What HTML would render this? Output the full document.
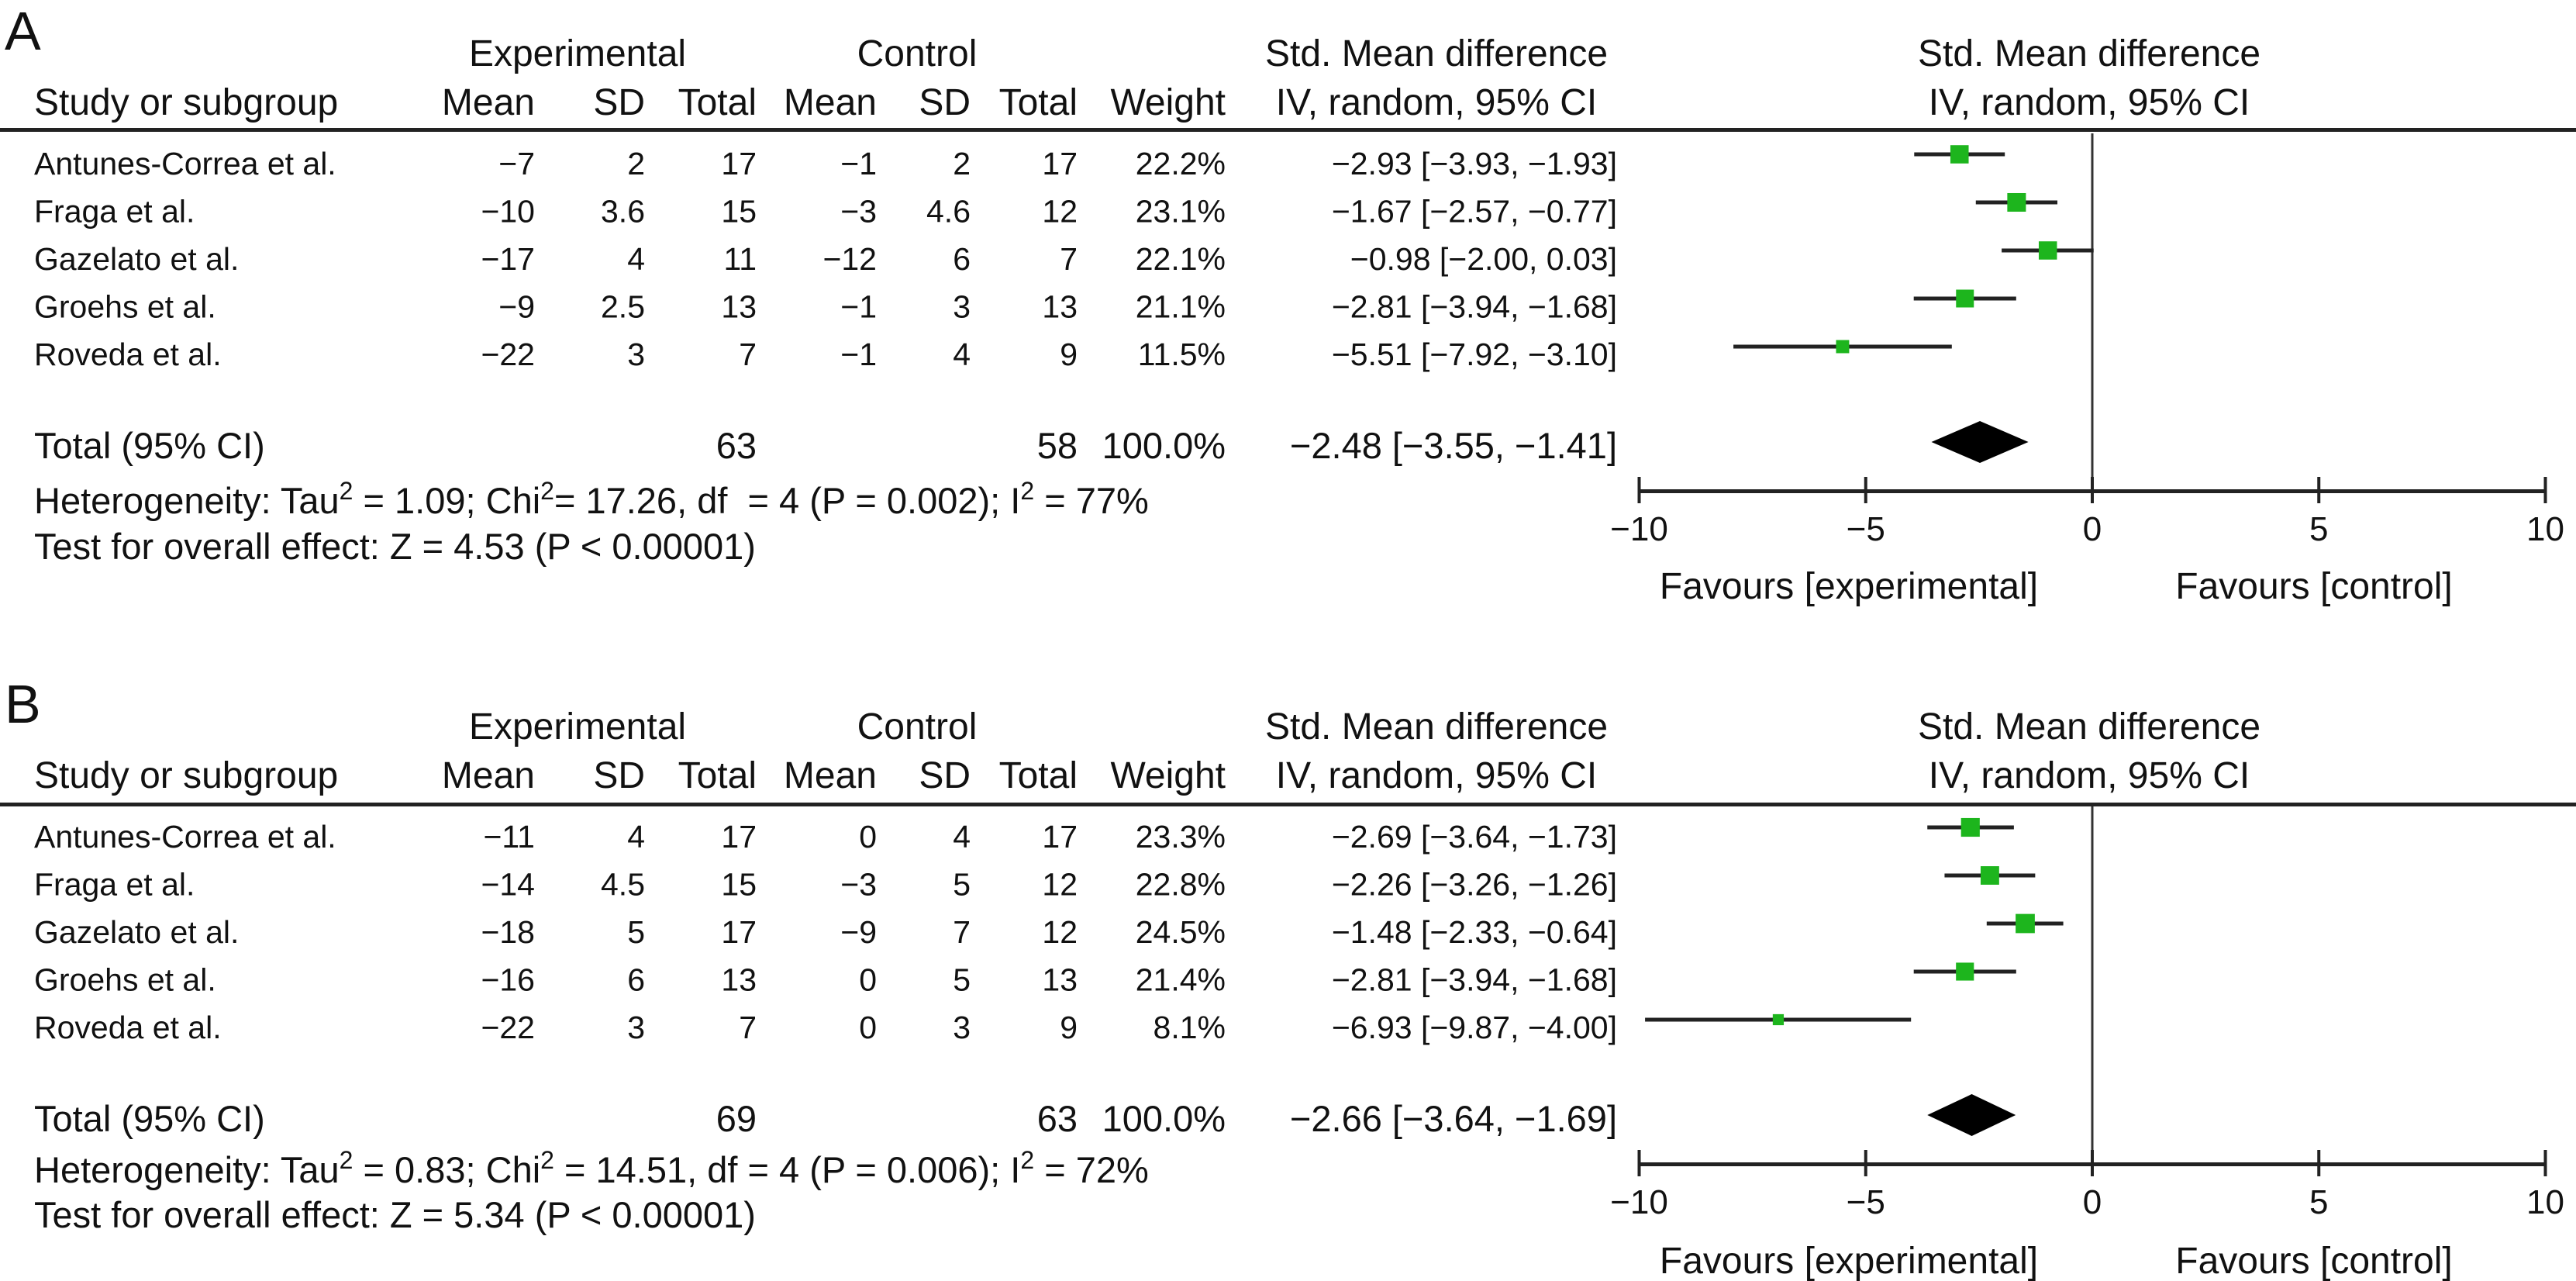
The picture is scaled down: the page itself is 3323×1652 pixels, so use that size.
<!DOCTYPE html>
<html><head><meta charset="utf-8"><style>
html,body{margin:0;padding:0;background:#fff;}
svg{display:block;font-family:"Liberation Sans",Arial,sans-serif;fill:#111;}
</style></head><body>
<svg id="fig" width="3323" height="1652" viewBox="0 0 3323 1652" xmlns="http://www.w3.org/2000/svg">
<rect width="3323" height="1652" fill="#fff"/>
<g id="panelA">
  <text x="6" y="64" font-size="70">A</text>
  <text x="745" y="85" font-size="48" text-anchor="middle">Experimental</text>
  <text x="1183" y="85" font-size="48" text-anchor="middle">Control</text>
  <text x="1853" y="85" font-size="48" text-anchor="middle">Std. Mean difference</text>
  <text x="2695" y="85" font-size="48" text-anchor="middle">Std. Mean difference</text>
  <text x="44" y="148" font-size="48">Study or subgroup</text>
  <text x="690" y="148" font-size="48" text-anchor="end">Mean</text>
  <text x="832" y="148" font-size="48" text-anchor="end">SD</text>
  <text x="976" y="148" font-size="48" text-anchor="end">Total</text>
  <text x="1131" y="148" font-size="48" text-anchor="end">Mean</text>
  <text x="1252" y="148" font-size="48" text-anchor="end">SD</text>
  <text x="1390" y="148" font-size="48" text-anchor="end">Total</text>
  <text x="1581" y="148" font-size="48" text-anchor="end">Weight</text>
  <text x="1853" y="148" font-size="48" text-anchor="middle">IV, random, 95% CI</text>
  <text x="2695" y="148" font-size="48" text-anchor="middle">IV, random, 95% CI</text>
  <rect x="0" y="165" width="3323" height="5" fill="#222"/>
  <text x="44" y="591" font-size="47">Total (95% CI)</text>
  <text x="44" y="662" font-size="47" xml:space="preserve">Heterogeneity: Tau<tspan dy="-18" font-size="32">2</tspan><tspan dy="18"> = 1.09; Chi</tspan><tspan dy="-18" font-size="32">2</tspan><tspan dy="18">= 17.26, df  = 4 (P = 0.002); I</tspan><tspan dy="-18" font-size="32">2</tspan><tspan dy="18"> = 77%</tspan></text>
  <text x="44" y="721" font-size="47">Test for overall effect: Z = 4.53 (P &lt; 0.00001)</text>
  <text x="2385" y="772" font-size="48" text-anchor="middle">Favours [experimental]</text>
  <text x="2985" y="772" font-size="48" text-anchor="middle">Favours [control]</text>
</g>
<g id="panelB" transform="translate(0,868)">
  <text x="6" y="64" font-size="70">B</text>
  <text x="745" y="85" font-size="48" text-anchor="middle">Experimental</text>
  <text x="1183" y="85" font-size="48" text-anchor="middle">Control</text>
  <text x="1853" y="85" font-size="48" text-anchor="middle">Std. Mean difference</text>
  <text x="2695" y="85" font-size="48" text-anchor="middle">Std. Mean difference</text>
  <text x="44" y="148" font-size="48">Study or subgroup</text>
  <text x="690" y="148" font-size="48" text-anchor="end">Mean</text>
  <text x="832" y="148" font-size="48" text-anchor="end">SD</text>
  <text x="976" y="148" font-size="48" text-anchor="end">Total</text>
  <text x="1131" y="148" font-size="48" text-anchor="end">Mean</text>
  <text x="1252" y="148" font-size="48" text-anchor="end">SD</text>
  <text x="1390" y="148" font-size="48" text-anchor="end">Total</text>
  <text x="1581" y="148" font-size="48" text-anchor="end">Weight</text>
  <text x="1853" y="148" font-size="48" text-anchor="middle">IV, random, 95% CI</text>
  <text x="2695" y="148" font-size="48" text-anchor="middle">IV, random, 95% CI</text>
  <rect x="0" y="167" width="3323" height="5" fill="#222"/>
  <text x="44" y="591" font-size="47">Total (95% CI)</text>
  <text x="44" y="657" font-size="47">Heterogeneity: Tau<tspan dy="-18" font-size="32">2</tspan><tspan dy="18"> = 0.83; Chi</tspan><tspan dy="-18" font-size="32">2</tspan><tspan dy="18"> = 14.51, df = 4 (P = 0.006); I</tspan><tspan dy="-18" font-size="32">2</tspan><tspan dy="18"> = 72%</tspan></text>
  <text x="44" y="715" font-size="47">Test for overall effect: Z = 5.34 (P &lt; 0.00001)</text>
  <text x="2385" y="774" font-size="48" text-anchor="middle">Favours [experimental]</text>
  <text x="2985" y="774" font-size="48" text-anchor="middle">Favours [control]</text>
</g>
</svg>
<script>
const studies = ["Antunes-Correa et al.", "Fraga et al.", "Gazelato et al.", "Groehs et al.", "Roveda et al."];
const ticks = [-10, -5, 0, 5, 10];
const tickLabels = ["\u221210", "\u22125", "0", "5", "10"];
// Panel A
const expMeanA = ["\u22127", "\u221210", "\u221217", "\u22129", "\u221222"];
const expSdA = ["2", "3.6", "4", "2.5", "3"];
const expNA = ["17", "15", "11", "13", "7"];
const ctrlMeanA = ["\u22121", "\u22123", "\u221212", "\u22121", "\u22121"];
const ctrlSdA = ["2", "4.6", "6", "3", "4"];
const ctrlNA = ["17", "12", "7", "13", "9"];
const weightA = [22.2, 23.1, 22.1, 21.1, 11.5];
const estA = [-2.93, -1.67, -0.98, -2.81, -5.51];
const loA = [-3.93, -2.57, -2.00, -3.94, -7.92];
const hiA = [-1.93, -0.77, 0.03, -1.68, -3.10];
const totalA = [-2.48, -3.55, -1.41];
const totalNA = ["63", "58"];
// Panel B
const expMeanB = ["\u221211", "\u221214", "\u221218", "\u221216", "\u221222"];
const expSdB = ["4", "4.5", "5", "6", "3"];
const expNB = ["17", "15", "17", "13", "7"];
const ctrlMeanB = ["0", "\u22123", "\u22129", "0", "0"];
const ctrlSdB = ["4", "5", "7", "5", "3"];
const ctrlNB = ["17", "12", "12", "13", "9"];
const weightB = [23.3, 22.8, 24.5, 21.4, 8.1];
const estB = [-2.69, -2.26, -1.48, -2.81, -6.93];
const loB = [-3.64, -3.26, -2.33, -3.94, -9.87];
const hiB = [-1.73, -1.26, -0.64, -1.68, -4.00];
const totalB = [-2.66, -3.64, -1.69];
const totalNB = ["69", "63"];

const NS = "http://www.w3.org/2000/svg";
function xScale(v){ return 2699 + v * 58.45; }
function fmt(v){ const s = Math.abs(v).toFixed(2); return (v < 0 ? "\u2212" : "") + s; }
function mk(tag, attrs, parent){
  const e = document.createElementNS(NS, tag);
  for (const k in attrs) e.setAttribute(k, attrs[k]);
  parent.appendChild(e); return e;
}
function txt(parent, x, y, s, size, anchor){
  const t = mk("text", {x: x, y: y, "font-size": size, "text-anchor": anchor || "start"}, parent);
  t.textContent = s; return t;
}
function drawPanel(g, d){
  const rowY = i => 199 + i * 62;
  const rowBase = i => 225 + i * 61.5;
  const z = mk("rect", {x: xScale(0) - 1.5, y: 172, width: 3, height: 462, fill: "#333"}, g);
  
  
  for (let i = 0; i < studies.length; i++){
    const by = rowBase(i);
    const n = txt(g, 44, by, studies[i], 41);
    
    
    const cells = [[d.em[i],690],[d.es[i],832],[d.en[i],976],[d.cm[i],1131],[d.cs[i],1252],[d.cn[i],1390],[d.w[i].toFixed(1)+"%",1581],[fmt(d.est[i])+" ["+fmt(d.lo[i])+", "+fmt(d.hi[i])+"]",2086]];
    for (const c of cells){
      const t = txt(g, c[1], by, c[0], 41, "end");
      
      
    }
    const cy = rowY(i);
    const l = mk("rect", {x: xScale(d.lo[i]), y: cy - 2.5, width: xScale(d.hi[i]) - xScale(d.lo[i]), height: 5, fill: "#222"}, g);
    
    
    const s = 5 * Math.sqrt(d.w[i]);
    const sq = mk("rect", {x: xScale(d.est[i]) - s/2, y: cy - s/2, width: s, height: s, fill: "#1db51d"}, g);
    
    
  }
  const tb = 591;
  [[d.tn[0],976],[d.tn[1],1390],["100.0%",1581],[fmt(d.tot[0])+" ["+fmt(d.tot[1])+", "+fmt(d.tot[2])+"]",2086]].forEach(c => {
    const t = txt(g, c[1], tb, c[0], 47, "end");
    
    
  });
  const dy = 570;
  const dm = mk("polygon", {points: [xScale(d.tot[1])+","+dy, xScale(d.tot[0])+","+(dy-27), xScale(d.tot[2])+","+dy, xScale(d.tot[0])+","+(dy+27)].join(" "), fill: "#000"}, g);
  
  
  const ax = mk("rect", {x: xScale(-10) - 2, y: 631, width: xScale(10) - xScale(-10) + 4, height: 5, fill: "#222"}, g);
  
  
  ticks.forEach((v, k) => {
    const tk = mk("rect", {x: xScale(v) - 2, y: 615, width: 4, height: 34, fill: "#222"}, g);
    
    
    const tl = txt(g, xScale(v), 697, tickLabels[k], 44, "middle");
    
    
  });
}
drawPanel(document.getElementById("panelA"), {em: expMeanA, es: expSdA, en: expNA, cm: ctrlMeanA, cs: ctrlSdA, cn: ctrlNA, w: weightA, est: estA, lo: loA, hi: hiA, tot: totalA, tn: totalNA});
drawPanel(document.getElementById("panelB"), {em: expMeanB, es: expSdB, en: expNB, cm: ctrlMeanB, cs: ctrlSdB, cn: ctrlNB, w: weightB, est: estB, lo: loB, hi: hiB, tot: totalB, tn: totalNB});
</script>
</body></html>
